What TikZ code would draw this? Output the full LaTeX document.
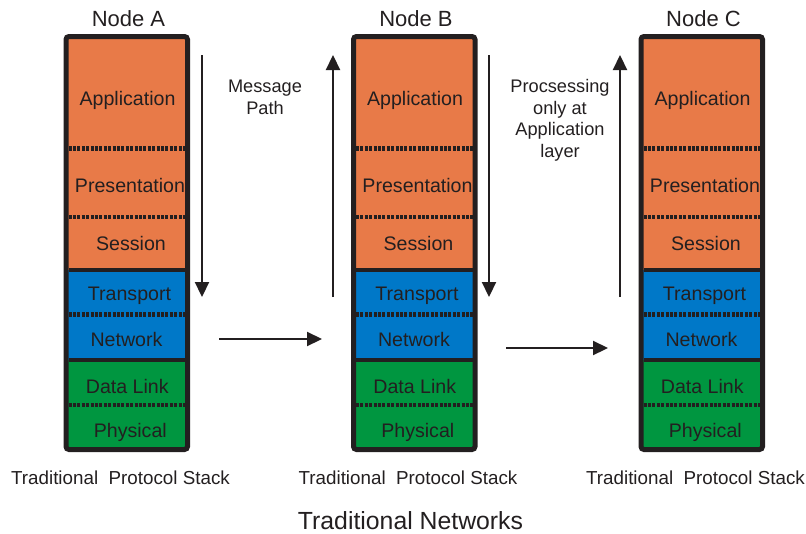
\documentclass[tikz,border=0pt]{standalone}
\usepackage{fontspec}
\setmainfont{Liberation Sans}
\usetikzlibrary{arrows.meta}
\definecolor{layerorange}{RGB}{232,122,72}
\definecolor{layerblue}{RGB}{0,120,200}
\definecolor{layergreen}{RGB}{0,150,64}
\definecolor{inkblack}{RGB}{35,31,32}

\begin{document}
\begin{tikzpicture}[x=1pt,y=-1pt,
    stackframe/.style={draw=inkblack,line width=5pt,rounded corners=3pt},
    groupsep/.style={draw=inkblack,line width=4.6pt},
    subsep/.style={draw=inkblack,line width=4.5pt,dash pattern=on 3pt off 1.4pt},
    layertext/.style={anchor=base,inner sep=0pt,text=inkblack,font=\fontsize{19.6}{22}\selectfont},
    stacktitle/.style={anchor=base,inner sep=0pt,text=inkblack,font=\fontsize{22}{26}\selectfont},
    stackcaption/.style={anchor=base,inner sep=0pt,text=inkblack,font=\fontsize{18.8}{22}\selectfont},
    pathnote/.style={anchor=north,inner sep=0pt,align=center,text=inkblack,font=\fontsize{18.2}{21.8}\selectfont},
    msgarrow/.style={draw=inkblack,line width=2.2pt,-{Triangle[length=15pt,width=14pt]}}]
              \useasboundingbox (0,0) rectangle (806,533);
              %\draw[help lines,step=50] (0,0) grid (806,533);

              % the three stacks
              \foreach \s/\x in {A/0,B/287.5,C/575}{
                \foreach \n/\txt/\top/\bot/\base/\tx/\col in {
                  app/Application/36/148.5/105/127.5/layerorange,
                  pres/Presentation/148.5/217/192/130/layerorange,
                  sess/Session/217/270/250/131/layerorange,
                  trans/Transport/270/314.5/300/129.5/layerblue,
                  net/Network/314.5/360/346/126.5/layerblue,
                  dl/Data Link/360/405/393/127.3/layergreen,
                  phys/Physical/405/449.5/437/130.3/layergreen}{
                  \path[fill=\col] (66+\x,\top) rectangle (187.5+\x,\bot);
                  \node[layertext] (\n\s) at (\tx+\x,\base) {\txt};
                }
                \foreach \y in {148.5,217,314.5,405}{
                  \path[subsep] (68.5+\x,\y) -- (185+\x,\y);
                }
                \path[groupsep] (68.5+\x,270) -- (185+\x,270);
                \path[groupsep] (68.5+\x,360) -- (185+\x,360);
                \path[stackframe] (66+\x,36.5) rectangle (187.5+\x,449.5);

                \node[stacktitle] (title\s) at (128.5+\x,26) {Node \s};
                \node[stackcaption] (caption\s) at (120.5+\x,484) {Traditional\ \ Protocol Stack};
              }

              % message path between the stacks
              \foreach \g/\x/\hy/\hl/\hr in {1/0/339/219/322, 2/287/348/506/608}{
                \coordinate (downtop\g) at (202+\x,55);
                \coordinate (downend\g) at (202+\x,297);
                \coordinate (upstart\g) at (333+\x,297);
                \coordinate (upend\g) at (333+\x,55);
                \coordinate (hopstart\g) at (\hl,\hy);
                \coordinate (hopend\g) at (\hr,\hy);
                \draw[msgarrow] (downtop\g) -- (downend\g);
                \draw[msgarrow] (upstart\g) -- (upend\g);
                \draw[msgarrow] (hopstart\g) -- (hopend\g);
              }

              \node[pathnote] (msgnote) at (265,80) {Message\\Path};
              \node[pathnote] (procnote) at (560,79) {Procsessing\\only at\\Application\\layer};

              \node[anchor=base,inner sep=0pt,text=inkblack,font=\fontsize{24.8}{28}\selectfont] (nettitle) at (410.5,529) {Traditional Networks};
            \end{tikzpicture}
\end{document}
